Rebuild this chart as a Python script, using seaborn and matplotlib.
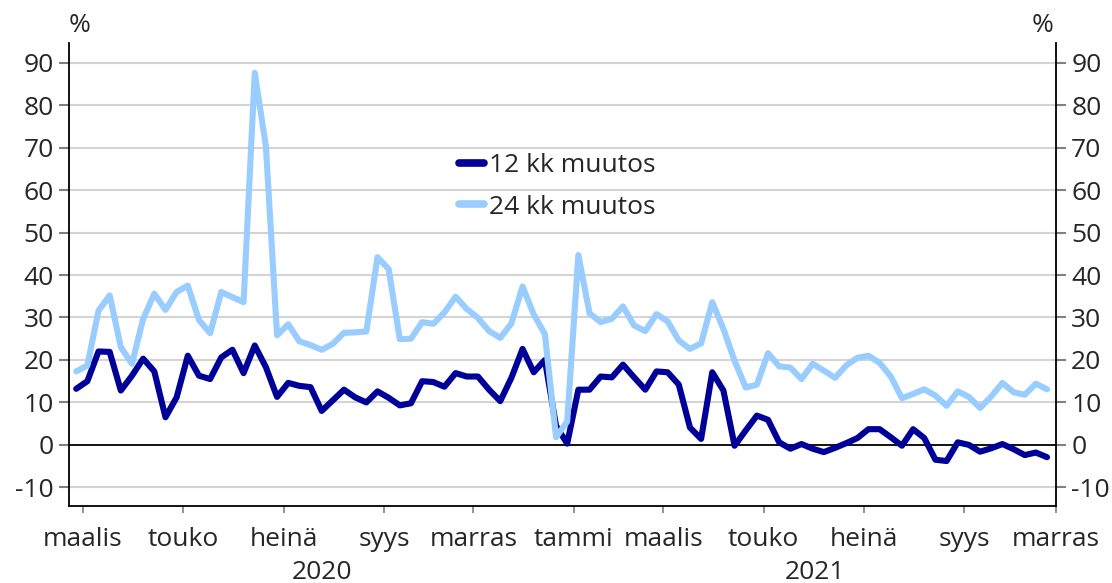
import numpy as np
import pandas as pd
import seaborn as sns
import matplotlib.pyplot as plt
from matplotlib.lines import Line2D

# weekly observations, 12 and 24 month change (%)
muutos_12 = [13.2, 15.0, 22.0, 21.9, 12.8, 16.3, 20.3, 17.3, 6.5, 11.2,
             21.0, 16.3, 15.5, 20.6, 22.4, 16.9, 23.4, 18.3, 11.3, 14.6,
             13.9, 13.6, 8.0, 10.5, 13.0, 11.2, 10.0, 12.6, 11.1, 9.3,
             9.8, 15.0, 14.8, 13.7, 16.9, 16.1, 16.1, 13.0, 10.3, 15.8,
             22.6, 17.1, 20.0, 4.5, 0.3, 13.0, 13.0, 16.1, 15.9, 18.9,
             15.9, 13.0, 17.3, 17.1, 14.2, 4.1, 1.4, 17.1, 12.8, -0.2,
             3.4, 6.9, 5.9, 0.6, -0.9, 0.2, -0.9, -1.7, -0.7, 0.4,
             1.6, 3.7, 3.7, 1.8, -0.2, 3.7, 1.6, -3.5, -3.8, 0.6,
             0.0, -1.6, -0.8, 0.2, -1.0, -2.4, -1.8, -2.9]
muutos_24 = [17.3, 18.7, 31.6, 35.2, 23.0, 19.1, 29.7, 35.6, 31.8, 36.0,
             37.5, 29.4, 26.3, 36.0, 34.8, 33.6, 87.6, 70.3, 25.8, 28.4,
             24.4, 23.5, 22.4, 23.8, 26.4, 26.5, 26.7, 44.2, 41.4, 24.9,
             25.0, 28.9, 28.5, 31.2, 34.9, 32.0, 29.9, 26.8, 25.2, 28.6,
             37.3, 30.7, 26.1, 1.8, 5.5, 44.7, 31.0, 28.9, 29.7, 32.6,
             28.1, 26.8, 30.8, 29.1, 24.6, 22.6, 23.9, 33.6, 27.3, 19.8,
             13.5, 14.2, 21.6, 18.5, 18.2, 15.5, 19.1, 17.5, 15.8, 18.7,
             20.5, 21.0, 19.3, 16.1, 11.0, 12.0, 13.1, 11.6, 9.2, 12.6,
             11.3, 8.7, 11.4, 14.6, 12.4, 11.8, 14.4, 13.1]

month_labels = ['maalis', 'touko', 'heinä', 'syys', 'marras', 'tammi',
                'maalis', 'touko', 'heinä', 'syys', 'marras']
month_weeks = [0, 9, 18, 27, 35, 44, 52, 61, 70, 79, 87.2]
years = ['2020', '2021']
year_start = 44  # week index where 2021 begins

series = ['12 kk muutos', '24 kk muutos']
colors = ['#000099', '#99ccff']

viikko = np.arange(len(muutos_12))
df = pd.DataFrame({'viikko': np.concatenate([viikko, viikko]),
                   'arvo': muutos_12 + muutos_24,
                   'sarja': [series[0]] * len(viikko) + [series[1]] * len(viikko)})

sns.set_theme(style="white")
plt.rcParams['font.family'] = ['Open Sans', 'DejaVu Sans']
plt.rcParams['axes.unicode_minus'] = False
fs = 19

fig = plt.figure(figsize=(11.12, 5.83), dpi=100)
ax = fig.add_axes([0.062, 0.132, 0.8876, 0.794])

for y in range(-10, 100, 10):
    if y != 0:
        ax.axhline(y, color='#d4d4d4', lw=1.5, zorder=0)
ax.axhline(0, color='black', lw=1.3, zorder=1)

sns.lineplot(data=df, x='viikko', y='arvo', hue='sarja', hue_order=series,
             palette=colors, linewidth=4.4, ax=ax, zorder=3, legend=False)

ax.set_xlim(-0.65, 87.8)
ax.set_ylim(-14.4, 94.6)
ax.set_xlabel('')
ax.set_ylabel('')

ax.set_yticks(range(-10, 100, 10))
ax.tick_params(axis='y', which='major', left=True, right=True, labelleft=True,
               labelright=True, length=7, width=1.5, color='#808080',
               labelsize=fs, pad=4)

tick_pos = [w + 0.6 for w in month_weeks]
ax.set_xticks(tick_pos)
ax.set_xticklabels(month_labels)
ax.set_xticks([year_start + 0.6], minor=True)
ax.tick_params(axis='x', which='major', bottom=True, length=5, width=1.2,
               color='#808080', labelsize=fs, pad=10)
ax.tick_params(axis='x', which='minor', bottom=True, length=20, width=1.2,
               color='#808080')

for side in ['left', 'right', 'bottom']:
    ax.spines[side].set_color('black')
    ax.spines[side].set_linewidth(1.3)
ax.spines['top'].set_visible(False)

# year labels
mid_2020 = (0 + year_start) / 2
mid_2021 = (year_start + 0.6 + 87.8) / 2
ax.text(mid_2020, -0.144, years[0], transform=ax.get_xaxis_transform(),
        ha='center', va='center', fontsize=fs)
ax.text(mid_2021, -0.144, years[1], transform=ax.get_xaxis_transform(),
        ha='center', va='center', fontsize=fs)

fig.text(80 / 1112, 1 - 25 / 583, '%', ha='center', va='center', fontsize=fs)
fig.text(1043 / 1112, 1 - 25 / 583, '%', ha='center', va='center', fontsize=fs)

handles = [Line2D([], [], color=c, lw=5.5) for c in colors]
ax.legend(handles, series, loc='upper left',
          bbox_to_anchor=(0.395, 0.762), frameon=False, fontsize=fs,
          handlelength=0.95, handletextpad=0.2, labelspacing=0.62,
          borderpad=0, borderaxespad=0)

fig.savefig('out.png', dpi=100)
